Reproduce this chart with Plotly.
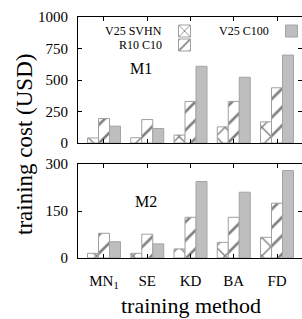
import plotly.graph_objects as go

methods = ["MN<sub>1</sub>", "SE", "KD", "BA", "FD"]
series_names = ["V25 SVHN", "R10 C10", "V25 C100"]

m1_svhn = [40, 42, 63, 128, 168]
m1_c10 = [194, 186, 330, 330, 438]
m1_c100 = [134, 115, 609, 522, 698]

m2_svhn = [15, 15, 29, 50, 66]
m2_c10 = [79, 76, 130, 130, 175]
m2_c100 = [52, 45, 244, 210, 279]

top_ticks = [0, 250, 500, 750, 1000]
bot_ticks = [0, 150, 300]

FONT = "Liberation Serif"
W, H = 302, 319
L, R, T, B = 78, 0, 17, 61
PW = W - L - R
PH = H - T - B

def px_x(p):
    return (p - L) / PW

def px_y(p):
    return (H - B - p) / PH

styles = [
    dict(marker=dict(color="white", line=dict(color="#a0a0a0", width=1),
                     pattern=dict(shape="x", size=13, solidity=0.2, fgcolor="black", bgcolor="white"))),
    dict(marker=dict(color="white", line=dict(color="#a0a0a0", width=1),
                     pattern=dict(shape="/", size=13, solidity=0.2, fgcolor="black", bgcolor="white"))),
    dict(marker=dict(color="#bebebe", line=dict(color="#a4a4a4", width=1))),
]

fig = go.Figure()
legends = ["legend", "legend2", "legend3"]
for i, vals in enumerate([m1_svhn, m1_c10, m1_c100]):
    fig.add_trace(go.Bar(x=methods, y=vals, name="\u00a0", xaxis="x2", yaxis="y2",
                         showlegend=True, legend=legends[i], **styles[i]))
for i, vals in enumerate([m2_svhn, m2_c10, m2_c100]):
    fig.add_trace(go.Bar(x=methods, y=vals, name=series_names[i], xaxis="x", yaxis="y",
                         showlegend=False, **styles[i]))

tickfont = dict(family=FONT, size=15, color="black")
xcommon = dict(range=[-0.601, 4.578], showline=True, linecolor="black", linewidth=1,
               mirror="ticks", ticks="inside", ticklen=4, tickcolor="black",
               showgrid=False, zeroline=False, fixedrange=True)
ycommon = dict(showline=True, linecolor="black", linewidth=1, mirror="ticks",
               ticks="inside", ticklen=4, tickcolor="black", showgrid=False,
               zeroline=False, tickfont=tickfont, ticklabelstandoff=6)

legfont = dict(family=FONT, size=10)
leg_common = dict(bgcolor="rgba(0,0,0,0)", borderwidth=0, font=legfont,
                  xanchor="left", yanchor="middle", orientation="v")

def ann(text, x, y, size, **kw):
    d = dict(text=text, x=px_x(x), y=px_y(y), xref="paper", yref="paper",
             xanchor="center", yanchor="middle", showarrow=False,
             font=dict(family=FONT, size=size, color="black"))
    d.update(kw)
    return d

fig.update_layout(
    width=W, height=H,
    margin=dict(l=L, r=R, t=T, b=B, pad=0, autoexpand=False),
    paper_bgcolor="white", plot_bgcolor="white",
    barmode="group", bargap=0.237, bargroupgap=0,
    font=dict(family=FONT, color="black"),
    xaxis=dict(domain=[0, 1], anchor="y", tickfont=tickfont, ticklabelstandoff=9, **xcommon),
    xaxis2=dict(domain=[0, 1], anchor="y2", matches="x", showticklabels=False, **xcommon),
    yaxis=dict(domain=[0, px_y(164)], range=[0, 300], tickvals=bot_ticks, **ycommon),
    yaxis2=dict(domain=[px_y(143), 1], range=[0, 1000], tickvals=top_ticks, **ycommon),
    legend=dict(x=px_x(164.5), y=px_y(31), **leg_common),
    legend2=dict(x=px_x(164.5), y=px_y(45), **leg_common),
    legend3=dict(x=px_x(271.5), y=px_y(31), **leg_common),
    annotations=[
        ann("M1", 141, 68, 16),
        ann("M2", 145.5, 202, 16),
        ann(series_names[0], 164, 31, 12, xanchor="right"),
        ann(series_names[1], 164, 45, 12, xanchor="right"),
        ann(series_names[2], 271, 31, 12, xanchor="right"),
        ann("training cost (USD)", 24, 145, 23, textangle=-90),
        ann("training method", 191, 305, 22),
    ],
)

fig.write_html("out.html", config=dict(displayModeBar=False),
               post_script="document.body.style.margin='0';document.body.style.padding='0';")
